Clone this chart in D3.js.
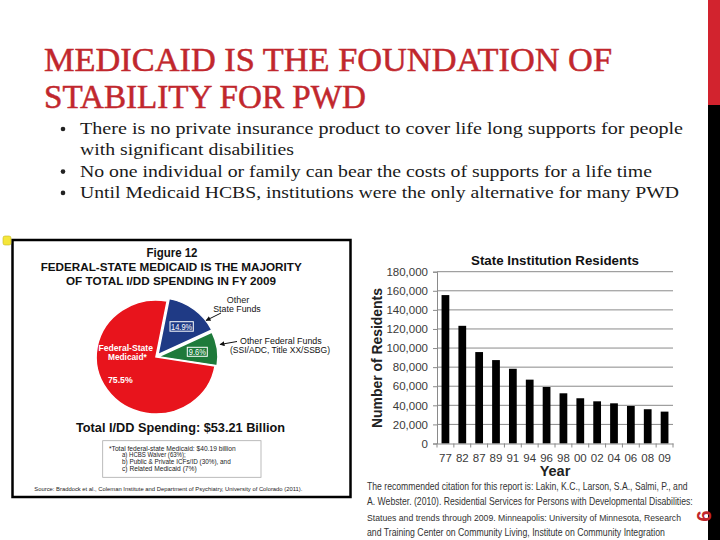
<!DOCTYPE html>
<html><head><meta charset="utf-8">
<script src="https://cdn.jsdelivr.net/npm/d3@7"></script>
<style>
html,body{margin:0;padding:0;background:#fff;}
svg{display:block;}
text{font-family:"Liberation Sans",Arial,sans-serif;}
.serif{font-family:"Liberation Serif","Times New Roman",serif;}
</style></head>
<body>
<svg id="c" width="720" height="540"></svg>
<script>
// ---------- data ----------
const titleLines = ["MEDICAID IS THE FOUNDATION OF", "STABILITY FOR PWD"];
const bullets = [
  ["There is  no private insurance product to cover life long supports for people", "with significant disabilities"],
  ["No one individual or family can bear the costs of supports for a life time"],
  ["Until Medicaid HCBS, institutions were the only alternative for many PWD"]
];
const pieCategories = ["Other State Funds", "Other Federal Funds", "Federal-State Medicaid*"];
const pieValues = [14.9, 9.6, 75.5];
const pieColors = ["#1f3a85", "#1e7a3a", "#e8141c"];
const footnoteLines = ["*Total federal-state Medicaid: $40.19 billion", "a) HCBS Waiver (63%);", "b) Public & Private ICFs/ID (30%), and", "c) Related Medicaid (7%)"];
const years = ["77","82","87","89","91","94","96","98","00","02","04","06","08","09"];
const residents = [155500, 123300, 95800, 87400, 78300, 66900, 59200, 52600, 47400, 44200, 42100, 39300, 35900, 33400];
const yTicks = [0, 20000, 40000, 60000, 80000, 100000, 120000, 140000, 160000, 180000];
const citation = [
  "The recommended citation for this report is: Lakin, K.C., Larson, S.A., Salmi, P., and",
  "A. Webster.  (2010).  Residential Services for Persons with Developmental Disabilities:",
  "Statues and trends through 2009.  Minneapolis: University of Minnesota, Research",
  "and Training Center on Community Living, Institute on Community Integration"
];

const svg = d3.select("#c");
const fmt = d3.format(",");

// ---------- side strip ----------
svg.append("rect").attr("x",708).attr("y",0).attr("width",12).attr("height",105).attr("fill","#d2232e");
svg.append("rect").attr("x",708).attr("y",105).attr("width",12).attr("height",435).attr("fill","#000");

// ---------- title ----------
const titleEnds = [612, 366];
titleLines.forEach((t,i)=>{
  svg.append("text").attr("class","serif").attr("x",44).attr("y",71+i*37)
    .attr("font-size",33).attr("fill","#c1272d").attr("stroke","#c1272d").attr("stroke-width",0.5)
    .attr("textLength",titleEnds[i]-44).attr("lengthAdjust","spacingAndGlyphs").text(t);
});

// ---------- bullets ----------
const bulletEnds = [[683,294],[652],[679]];
let by = 134;
bullets.forEach((b,bi)=>{
  svg.append("circle").attr("cx",63).attr("cy",by-5).attr("r",2.3).attr("fill","#222");
  b.forEach((line,li)=>{
    svg.append("text").attr("class","serif").attr("x",80).attr("y",by)
      .attr("font-size",17).attr("fill","#1a1a1a")
      .attr("textLength",bulletEnds[bi][li]-80).attr("lengthAdjust","spacingAndGlyphs").text(line);
    by += 21.3;
  });
});

// ---------- left figure ----------
const fig = svg.append("g");
fig.append("rect").attr("x",12.5).attr("y",240).attr("width",338).attr("height",257)
  .attr("fill","#fff").attr("stroke","#000").attr("stroke-width",2.5);
// yellow marker
fig.append("rect").attr("x",3).attr("y",236).attr("width",8).attr("height",9).attr("rx",2)
  .attr("fill","#f5e63a").attr("stroke","#c8b820").attr("stroke-width",0.6);

function tx(g, x, y, size, txt, opts={}) {
  const t = g.append("text").attr("x",x).attr("y",y).attr("font-size",size)
    .attr("fill",opts.fill||"#111").attr("font-weight",opts.bold?"bold":"normal")
    .attr("text-anchor",opts.anchor||"start").text(txt);
  if (opts.len) t.attr("textLength",opts.len).attr("lengthAdjust","spacingAndGlyphs");
  return t;
}
// text squeezed horizontally by a transform to a target width
function sq(g, x, y, size, txt, width, fill) {
  const t = g.append("text").attr("x",0).attr("y",0).attr("font-size",size).attr("fill",fill).text(txt);
  const w = t.node().getComputedTextLength();
  const s = Math.min(1, width / w);
  t.attr("transform",`translate(${x},${y}) scale(${s},1)`);
  return t;
}
tx(fig,172,257,12,"Figure 12",{bold:true,anchor:"middle",len:51});
tx(fig,40.7,270.7,11.5,"FEDERAL-STATE MEDICAID IS THE MAJORITY",{bold:true,len:261});
tx(fig,66,284.5,11.5,"OF TOTAL I/DD SPENDING IN FY 2009",{bold:true,len:210});

// pie
const cx = 156, cy = 357, R = 57;
const pie = d3.pie().sort(null).startAngle(10.8*Math.PI/180).endAngle(10.8*Math.PI/180 + 2*Math.PI);
const arcs = pie(pieValues);
const arc = d3.arc().innerRadius(0).outerRadius(R);
const explode = [3, 2, 0];
const pg = fig.append("g").attr("transform",`translate(${cx},${cy}) scale(1.05,1)`);
pg.selectAll("path").data(arcs).join("path")
  .attr("d",arc)
  .attr("fill",(d,i)=>pieColors[i])
  .attr("stroke","#fff").attr("stroke-width",1.5)
  .attr("transform",(d,i)=>{
    const a=(d.startAngle+d.endAngle)/2;
    return `translate(${Math.sin(a)*explode[i]},${-Math.cos(a)*explode[i]})`;
  });

// value boxes for small slices
const boxes = [{x:170,y:321.7,w:23.3,h:9.5},{x:187.3,y:347.3,w:20,h:9}];
boxes.forEach((b,i)=>{
  fig.append("rect").attr("x",b.x).attr("y",b.y).attr("width",b.w).attr("height",b.h)
    .attr("fill",pieColors[i]).attr("stroke","#fff").attr("stroke-width",1);
});
tx(fig,181.6,329.6,8.5,pieValues[0].toFixed(1)+"%",{fill:"#fff",anchor:"middle",len:21});
tx(fig,197.3,355,8.5,pieValues[1].toFixed(1)+"%",{fill:"#fff",anchor:"middle",len:17});
tx(fig,98.5,350.7,8.5,"Federal-State",{fill:"#fff",bold:true,len:54.5});
tx(fig,108,360,8.5,"Medicaid*",{fill:"#fff",bold:true,len:38.7});
tx(fig,108,383.3,9.5,pieValues[2].toFixed(1)+"%",{fill:"#fff",bold:true,len:24.7});

// outside labels
tx(fig,238,302.5,8.5,"Other",{anchor:"middle",fill:"#222",len:22.6});
tx(fig,237,311.7,8.5,"State Funds",{anchor:"middle",fill:"#111",len:47.5});
tx(fig,240,344,8.5,"Other Federal Funds",{fill:"#111",len:81.7});
tx(fig,230,353.3,8.5,"(SSI/ADC, Title XX/SSBG)",{fill:"#111",len:100});
const defs = svg.append("defs");
defs.append("marker").attr("id","ah").attr("viewBox","0 0 10 10").attr("refX",9).attr("refY",5)
  .attr("markerWidth",5).attr("markerHeight",5).attr("orient","auto")
  .append("path").attr("d","M0,0L10,5L0,10z").attr("fill","#111");
fig.append("line").attr("x1",221).attr("y1",313).attr("x2",206).attr("y2",320.5)
  .attr("stroke","#111").attr("stroke-width",1).attr("marker-end","url(#ah)");
fig.append("line").attr("x1",237).attr("y1",341.5).attr("x2",220).attr("y2",344.5)
  .attr("stroke","#111").attr("stroke-width",1).attr("marker-end","url(#ah)");

tx(fig,76,432,13.5,"Total I/DD Spending: $53.21 Billion",{bold:true,len:209});
fig.append("rect").attr("x",102.7).attr("y",440.7).attr("width",158.3).attr("height",36.6)
  .attr("fill","#fff").attr("stroke","#aaa").attr("stroke-width",0.8);
const fnX = [109,122,122,122], fnY=[450.7,457.3,464.3,471.3], fnEnd=[235.7,185.7,230.7,196.7];
footnoteLines.forEach((l,i)=>tx(fig,fnX[i],fnY[i],6.5,l,{fill:"#222",len:fnEnd[i]-fnX[i]}));
tx(fig,34.3,490.5,6,"Source: Braddock et al., Coleman Institute and Department of Psychiatry, University of Colorado (2011).",{fill:"#222",len:268});

// ---------- bar chart ----------
const x0 = 437, x1 = 673, yTop = 271.7, yBot = 443.5;
const x = d3.scaleBand().domain(years).range([x0,x1]).paddingInner(0.54).paddingOuter(0.27);
const y = d3.scaleLinear().domain([0,180000]).range([yBot,yTop]);
const bc = svg.append("g");
// gridlines
bc.selectAll("line.grid").data(yTicks.slice(1)).join("line").attr("class","grid")
  .attr("x1",x0).attr("x2",x1).attr("y1",d=>y(d)).attr("y2",d=>y(d))
  .attr("stroke","#8a8a8a").attr("stroke-width",1);
// bars
bc.selectAll("rect.bar").data(residents).join("rect").attr("class","bar")
  .attr("x",(d,i)=>x(years[i])).attr("width",x.bandwidth())
  .attr("y",d=>y(d)).attr("height",d=>yBot-y(d)).attr("fill","#000");
// y axis
const yAxis = bc.append("g").attr("transform",`translate(${x0},0)`)
  .call(d3.axisLeft(y).tickValues(yTicks).tickFormat(fmt).tickSize(4).tickPadding(5));
yAxis.select(".domain").attr("stroke","#8a8a8a");
yAxis.selectAll(".tick line").attr("stroke","#8a8a8a");
yAxis.selectAll(".tick text").attr("font-size",11.5).attr("fill","#3a3a3a").attr("font-family","Liberation Sans, Arial, sans-serif");
// x axis
const xAxis = bc.append("g").attr("transform",`translate(0,${yBot})`)
  .call(d3.axisBottom(x).tickSize(0).tickPadding(10));
xAxis.select(".domain").attr("stroke","#8a8a8a");
xAxis.selectAll(".tick text").attr("font-size",11.5).attr("fill","#3a3a3a").attr("font-family","Liberation Sans, Arial, sans-serif");
// category separators
bc.selectAll("line.sep").data(d3.range(years.length+1)).join("line").attr("class","sep")
  .attr("x1",d=>x0+d*(x1-x0)/years.length).attr("x2",d=>x0+d*(x1-x0)/years.length)
  .attr("y1",yBot).attr("y2",yBot+4).attr("stroke","#8a8a8a");
tx(bc,555,265,13,"State Institution Residents",{bold:true,anchor:"middle",len:168});
tx(bc,555,476,14.5,"Year",{bold:true,anchor:"middle",fill:"#222"});
bc.append("text").attr("transform","translate(382,358) rotate(-90)").attr("text-anchor","middle")
  .attr("font-size",15.5).attr("font-weight","bold").attr("fill","#222")
  .attr("textLength",140).attr("lengthAdjust","spacingAndGlyphs").text("Number of Residents");

// citation
const citEnds=[688,693,681.7,665], citY=[489.5,505,520.5,536];
citation.forEach((l,i)=>sq(svg,367,citY[i],10,l,citEnds[i]-367,"#333"));

// page number
svg.append("text").attr("transform","translate(697,516) rotate(90)").attr("text-anchor","middle")
  .attr("font-size",20).attr("font-weight","bold").attr("fill","#c1272d").text("9");
</script>
</body></html>
